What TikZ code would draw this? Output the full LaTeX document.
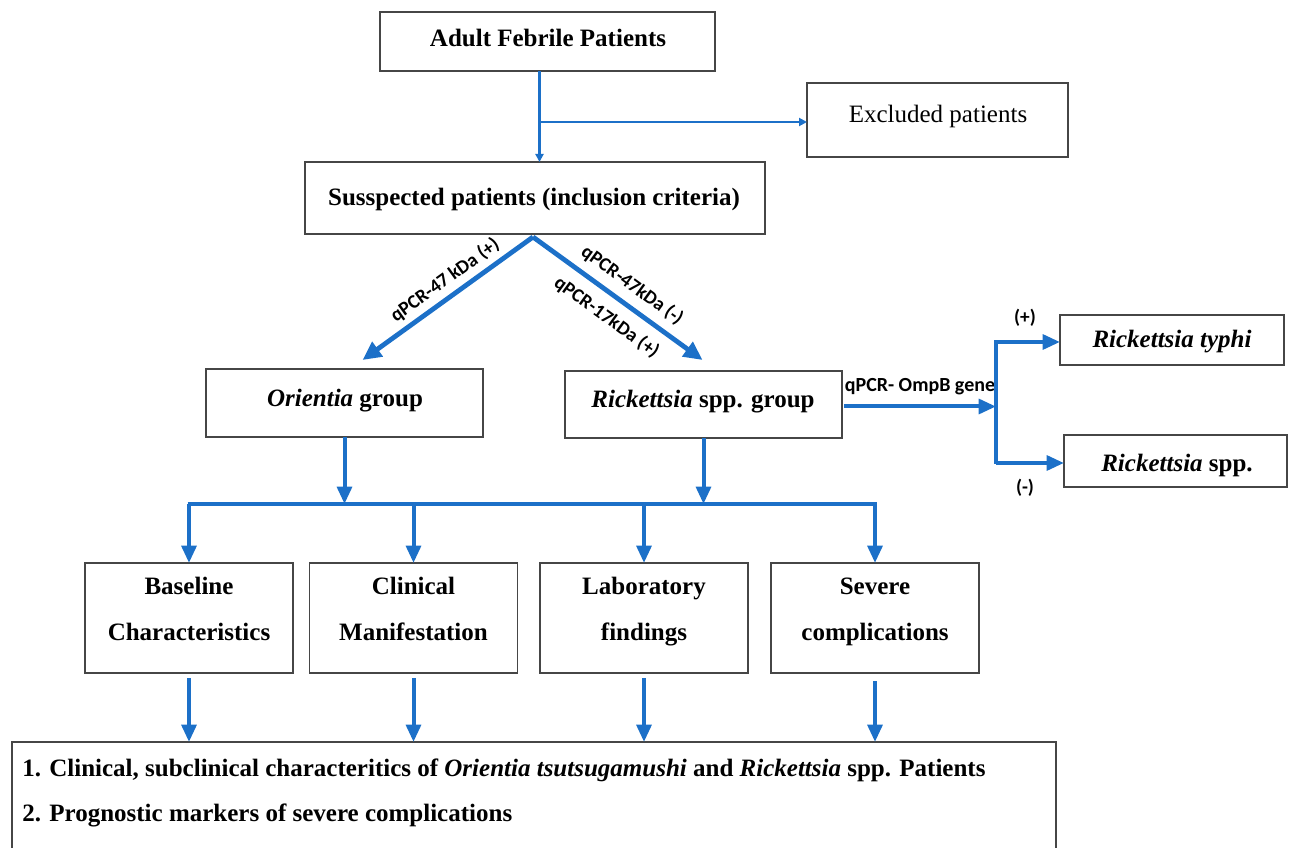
\documentclass[tikz,border=0pt]{standalone}
\usepackage{fontspec}
\setmainfont{Liberation Serif}
\newfontfamily\calib{Carlito}
\usetikzlibrary{arrows.meta,calc}
\definecolor{fblue}{RGB}{28,112,200}
\definecolor{bord}{RGB}{70,70,70}
\begin{document}
\begin{tikzpicture}[x=0.75pt,y=-0.75pt,
  bx/.style 2 args={draw=bord, line width=1.2pt, minimum width=#1*0.75pt, minimum height=#2*0.75pt, inner sep=0pt, outer sep=0pt},
  tx/.style={font=\fontsize{18.75}{22}\selectfont\bfseries, inner sep=0pt, text height=14pt, text depth=0.5pt},
  lab/.style={font=\calib\fontsize{14.5}{16}\selectfont\bfseries, inner sep=0pt},
  thinar/.style={draw=fblue, line width=2.2pt, -{Triangle[length=6pt,width=6pt]}},
  thickar/.style={draw=fblue, line width=3pt, -{Triangle[length=13pt,width=11pt]}},
  diagar/.style={draw=fblue, line width=3.6pt, -{Triangle[length=14pt,width=13pt]}},
  busline/.style={draw=fblue, line width=3pt},
]
\useasboundingbox (0,0) rectangle (1289,848);
\clip (0,0) rectangle (1289,848);

% boxes
\node[bx={335}{59}] (adult) at (547.5,41.5) {};
\node[tx] at (548,38) {Adult Febrile Patients};
\node[bx={261}{74}] (excl) at (937.5,120) {};
\node[tx, font=\fontsize{18.75}{22}\selectfont] at (938,114) {Excluded patients};
\node[bx={460}{72}] (susp) at (535,198) {};
\node[tx] at (534,197) {Susspected patients (inclusion criteria)};
\node[bx={277}{68}] (ori) at (344.5,403) {};
\node[tx] at (345,398) {\textit{Orientia} group};
\node[bx={277}{67}] (ric) at (703.5,404.5) {};
\node[tx] at (703,399) {\textit{Rickettsia} spp. group};
\node[bx={224}{50}] (typhi) at (1172,340) {};
\node[tx] at (1172,339) {\textit{Rickettsia typhi}};
\node[bx={223}{52}] (rspp) at (1175.5,461) {};
\node[tx] at (1177,462) {\textit{Rickettsia} spp.};

\node[bx={208}{110}] (bl) at (189,618) {};
\node[bx={208}{110}] (cm) at (413.5,618) {};
\node[bx={208}{110}] (lf) at (644,618) {};
\node[bx={208}{110}] (sc) at (875,618) {};
\node[tx] at (189,585) {Baseline};
\node[tx] at (189,631) {Characteristics};
\node[tx] at (413.5,585) {Clinical};
\node[tx] at (413.5,631) {Manifestation};
\node[tx] at (644,585) {Laboratory};
\node[tx] at (644,631) {findings};
\node[tx] at (875,585) {Severe};
\node[tx] at (875,631) {complications};

\node[bx={1044}{140}, anchor=north west] (bot) at (12,742) {};
\node[tx, anchor=west] at (22,767) {1. Clinical, subclinical characteritics of \textit{Orientia tsutsugamushi} and \textit{Rickettsia} spp. Patients};
\node[tx, anchor=west] at (22,812) {2. Prognostic markers of severe complications};

% top connectors
\coordinate (ja) at ($(adult.south)+(-8,0)$);
\coordinate (jb) at ($(ja)+(0,51)$);
\draw[thinar] (ja) -- (ja |- susp.north);
\draw[thinar] (jb) -- (jb -| excl.west);

% diagonals
\coordinate (apex) at ($(susp.south)+(-2,3)$);
\coordinate (tipL) at ($(ori.north)+(18,-9)$);
\coordinate (tipR) at ($(ric.north)+(-1,-11)$);
\draw[diagar] (apex) -- node[pos=0.46, sloped, above, lab, inner sep=4pt] {qPCR-47 kDa (+)} (tipL);
\draw[diagar] (apex) -- node[pos=0.52, sloped, above, lab, inner sep=6pt] {qPCR-47kDa (-)}
  node[pos=0.51, sloped, below, lab, inner sep=8pt] {qPCR-17kDa (+)} (tipR);

% right branch
\coordinate (brT) at (996,342);
\coordinate (brB) at (996,463);
\coordinate (re) at ($(ric.east)+(2,2)$);
\draw[thickar] (re) -- node[midway, above=7pt, lab, font=\calib\fontsize{15}{16}\selectfont\bfseries] {qPCR- OmpB gene} (re -| brT);
\draw[busline] ($(brT)+(0,-1.5)$) -- ($(brB)+(0,1.5)$);
\draw[thickar] (brT) -- (brT -| typhi.west);
\draw[thickar] (brB) -- (brB -| rspp.west);
\node[lab] at ($(brT)+(29,-24)$) {(+)};
\node[lab] at ($(brB)+(29,25)$) {(-)};

% bus
\coordinate (bus) at (0,504);
\draw[thickar] (ori.south) -- (ori.south |- bus);
\draw[thickar] (ric.south) -- (ric.south |- bus);
\draw[busline] ($(bl.north |- bus)+(-1.5,0)$) -- ($(sc.north |- bus)+(1.5,0)$);
\draw[thickar] (bl.north |- bus) -- (bl.north);
\draw[thickar] (cm.north |- bus) -- (cm.north);
\draw[thickar] (lf.north |- bus) -- (lf.north);
\draw[thickar] (sc.north |- bus) -- (sc.north);

% to bottom box
\draw[thickar, shorten <=4pt] (bl.south) -- (bl.south |- bot.north);
\draw[thickar, shorten <=4pt] (cm.south) -- (cm.south |- bot.north);
\draw[thickar, shorten <=4pt] (lf.south) -- (lf.south |- bot.north);
\draw[thickar, shorten <=6pt] (sc.south) -- (sc.south |- bot.north);
\end{tikzpicture}
\end{document}
